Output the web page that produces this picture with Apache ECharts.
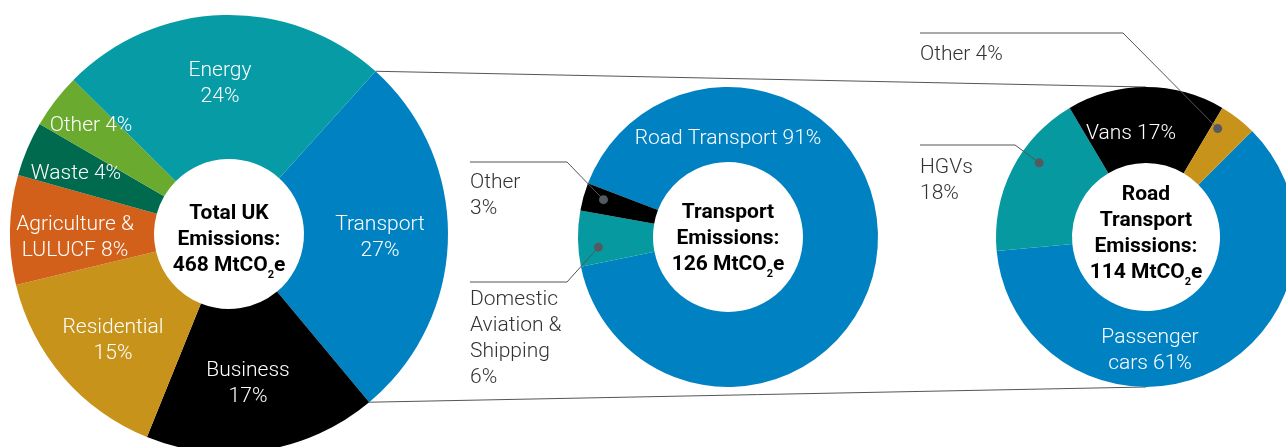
<!DOCTYPE html>
<html><head><meta charset="utf-8">
<script src="https://cdn.jsdelivr.net/npm/echarts@6/dist/echarts.min.js"></script>
<style>html,body{margin:0;padding:0;background:#fff}#c{width:1286px;height:447px}</style>
</head><body><div id="c"></div>
<script>
// ---- data ----
const totalCats = ['Transport', 'Business', 'Residential', 'Agriculture & LULUCF', 'Waste', 'Other', 'Energy'];
const totalVals = [27, 17, 15, 8, 4, 4, 24];
const totalLabels = ['Transport\n27%', 'Business\n17%', 'Residential\n15%', 'Agriculture &\nLULUCF 8%', 'Waste 4%', 'Other 4%', 'Energy\n24%'];

const transportCats = ['Road Transport', 'Domestic Aviation & Shipping', 'Other'];
const transportVals = [91, 6, 3];
const transportLabels = ['Road Transport 91%', 'Domestic\nAviation &\nShipping\n6%', 'Other\n3%'];

const roadCats = ['Passenger cars', 'HGVs', 'Vans', 'Other'];
const roadVals = [61, 18, 17, 4];
const roadLabels = ['Passenger\ncars 61%', 'HGVs\n18%', 'Vans 17%', 'Other 4%'];

const centerTitles = [
  ['Total UK', 'Emissions:', '468 MtCO'],
  ['Transport', 'Emissions:', '126 MtCO'],
  ['Road', 'Transport', 'Emissions:', '114 MtCO']
];

// ---- layout & style ----
const L = {cx: 229, cy: 234, r0: 75, r1: 219, start: 48, ty: 6};
const M = {cx: 728, cy: 237, r0: 75, r1: 150, start: 159, ty: 2};
const R = {cx: 1146, cy: 237, r0: 74, r1: 150, start: 45, ty: -3};

const leftColors = ['#0081c2', '#000000', '#c8931a', '#d2601a', '#006a4e', '#69aa2f', '#079ba5'];
const midColors = ['#0081c2', '#06999f', '#000000'];
const rightColors = ['#0081c2', '#06999f', '#000000', '#c8931a'];

// inside label offsets from each donut's centre
const leftLabelPos = [[151, 4], [19, 150], [-116, 107], [-154, 4], [-153, -60], [-138, -108], [-9, -150]];
const midLabelPos = [[0, -98], null, null];
const rightLabelPos = [[4, 114], null, [-15, -103], null];
// leader labels: [textLeftDx, textTopDy, lineDy, elbowDx, dotFrac]
const midLeader = [null, [-258, 50, 45, -161, 0.32], [-258, -67, -75, -161, 0.6]];
const rightLeader = [null, [-226, -82, -92, -131, 0.62], null, [-226, -195, -204, -23, 0.2]];

const FONT = 'Roboto';
const DOT_R = 130;
const LINE_C = '#555';

function midAngle(vals, start, i, frac) {
  const tot = vals.reduce((a, b) => a + b, 0);
  let acc = 0;
  for (let k = 0; k < i; k++) acc += vals[k];
  const a0 = start - acc / tot * 360;
  return a0 - vals[i] / tot * 360 * frac;
}
function pt(c, r, ang) {
  const a = ang * Math.PI / 180;
  return [c.cx + r * Math.cos(a), c.cy - r * Math.sin(a)];
}

function makeSeries(geo, cats, vals, labels, colors, insidePos, leaders) {
  return {
    type: 'pie',
    center: [geo.cx, geo.cy],
    radius: [geo.r0, geo.r1],
    startAngle: geo.start,
    clockwise: true,
    avoidLabelOverlap: false,
    silent: true,
    animation: false,
    itemStyle: {borderWidth: 0},
    labelLine: {show: false},
    data: cats.map((c, i) => {
      const lead = leaders && leaders[i];
      return {
        name: c, value: vals[i],
        itemStyle: {color: colors[i]},
        label: {
          show: true,
          position: lead ? 'outside' : 'inside',
          formatter: labels[i],
          color: lead ? '#333' : '#fff',
          fontFamily: FONT, fontWeight: 300, fontSize: 21, lineHeight: 26
        },
        labelLine: {show: false}
      };
    }),
    labelLayout: function (p) {
      const i = p.dataIndex;
      const lead = leaders && leaders[i];
      if (lead) {
        return {x: geo.cx + lead[0], y: geo.cy + lead[1], align: 'left', verticalAlign: 'top'};
      }
      const pos = insidePos[i];
      return {x: geo.cx + pos[0], y: geo.cy + pos[1], align: 'center', verticalAlign: 'middle'};
    }
  };
}

const graphics = [];
// connecting lines from Transport slice to road transport donut
const tTot = totalVals.reduce((a, b) => a + b, 0);
const pTop = pt(L, L.r1, L.start);
const pBot = pt(L, L.r1, L.start - totalVals[0] / tTot * 360);
graphics.push({type: 'line', z: 0, shape: {x1: pTop[0], y1: pTop[1], x2: R.cx, y2: R.cy - R.r1}, style: {stroke: LINE_C, lineWidth: 1}});
graphics.push({type: 'line', z: 0, shape: {x1: pBot[0], y1: pBot[1], x2: R.cx, y2: R.cy + R.r1}, style: {stroke: LINE_C, lineWidth: 1}});
// leader lines and dots
[[M, transportVals, midLeader], [R, roadVals, rightLeader]].forEach(([g, vals, leads]) => {
  leads.forEach((ld, i) => {
    if (!ld) return;
    const d = pt(g, DOT_R, midAngle(vals, g.start, i, ld[4]));
    graphics.push({
      type: 'polyline', z: 100,
      shape: {points: [[g.cx + ld[0], g.cy + ld[2]], [g.cx + ld[3], g.cy + ld[2]], d]},
      style: {stroke: LINE_C, lineWidth: 1, fill: null}
    });
    graphics.push({type: 'circle', z: 101, shape: {cx: d[0], cy: d[1], r: 4.5}, style: {fill: '#555a60'}});
  });
});
// centre titles
[L, M, R].forEach((g, k) => {
  const lines = centerTitles[k];
  const txt = lines.map((s, j) => j === lines.length - 1 ? '{b|' + s + '}{s|2}{b|e}' : '{b|' + s + '}').join('\n');
  graphics.push({
    type: 'text', z: 100, x: g.cx, y: g.cy + g.ty,
    style: {
      text: txt, align: 'center', verticalAlign: 'middle',
      rich: {
        b: {fontFamily: FONT, fontWeight: 'bold', fontSize: 21, lineHeight: 26, fill: '#000'},
        s: {fontFamily: FONT, fontWeight: 'bold', fontSize: 11, lineHeight: 26, fill: '#000', verticalAlign: 'bottom', padding: [0, 0, -2, 0]}
      }
    }
  });
});

const chart = echarts.init(document.getElementById('c'), null, {renderer: 'canvas'});
chart.setOption({
  animation: false,
  backgroundColor: '#fff',
  series: [
    makeSeries(L, totalCats, totalVals, totalLabels, leftColors, leftLabelPos, null),
    makeSeries(M, transportCats, transportVals, transportLabels, midColors, midLabelPos, midLeader),
    makeSeries(R, roadCats, roadVals, roadLabels, rightColors, rightLabelPos, rightLeader)
  ],
  graphic: {elements: graphics}
});
</script></body></html>
